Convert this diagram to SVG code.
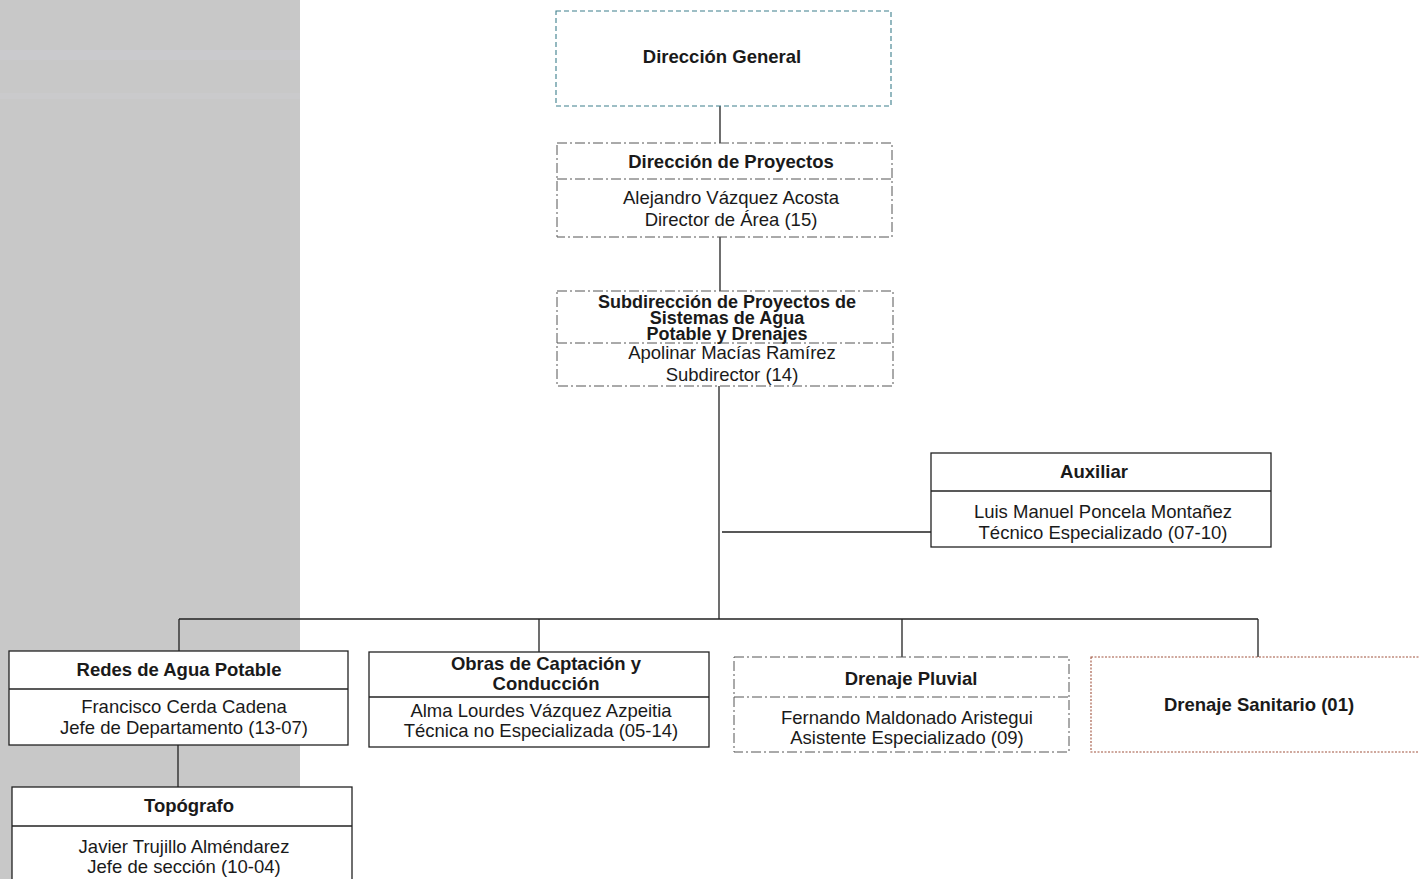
<svg xmlns="http://www.w3.org/2000/svg" width="1419" height="879" viewBox="0 0 1419 879">
<style>
text{font-family:"Liberation Sans",Arial,sans-serif;font-size:18.5px;fill:#1a1a1a;text-anchor:middle}
.b{font-weight:bold}
.t{font-size:18px}
.solid{fill:#fff;stroke:#222;stroke-width:1.3}
.dd{fill:#fff;stroke:#555;stroke-width:1;stroke-dasharray:10 3 2 3}
.ddl{stroke:#555;stroke-width:1;stroke-dasharray:10 3 2 3}
.sl{stroke:#222;stroke-width:1.3}
.con{stroke:#222;stroke-width:1.3;fill:none}
</style>
<rect x="0" y="0" width="300" height="879" fill="#c8c8c8"/>
<rect x="0" y="50" width="300" height="10" fill="#ccccd2" opacity="0.5"/>
<rect x="0" y="93" width="300" height="6" fill="#ccccd2" opacity="0.4"/>
<g id="connectors">
<path class="con" d="M720 106V143M720 237V291M719 386V619M722 532H931M179 619H1258M179 619V651M539 619V652M902 619V657M1258 619V657M178 745V787"/>
</g>
<g id="n-direccion-general">
<rect x="556" y="11" width="335" height="95" fill="#fff" stroke="#3d7f8c" stroke-width="1.1" stroke-dasharray="5 3"/>
<text class="b" x="722" y="63">Dirección General</text>
</g>
<g id="n-direccion-proyectos">
<rect class="dd" x="557" y="143" width="335" height="94"/>
<line class="ddl" x1="557" y1="179" x2="892" y2="179"/>
<text class="b" x="731" y="168">Dirección de Proyectos</text>
<text x="731" y="204">Alejandro Vázquez Acosta</text>
<text x="731" y="226">Director de Área (15)</text>
</g>
<g id="n-subdireccion">
<rect class="dd" x="557" y="291" width="336" height="95"/>
<line class="ddl" x1="557" y1="343" x2="893" y2="343"/>
<text class="b t" x="727" y="308">Subdirección de Proyectos de</text>
<text class="b t" x="727" y="324">Sistemas de Agua</text>
<text class="b t" x="727" y="340">Potable y Drenajes</text>
<text x="732" y="359">Apolinar Macías Ramírez</text>
<text x="732" y="381">Subdirector (14)</text>
</g>
<g id="n-auxiliar">
<rect class="solid" x="931" y="453" width="340" height="94"/>
<line class="sl" x1="931" y1="491" x2="1271" y2="491"/>
<text class="b" x="1094" y="478">Auxiliar</text>
<text x="1103" y="518">Luis Manuel Poncela Montañez</text>
<text x="1103" y="539">Técnico Especializado (07-10)</text>
</g>
<g id="n-redes">
<rect class="solid" x="9" y="651" width="339" height="94"/>
<line class="sl" x1="9" y1="689" x2="348" y2="689"/>
<text class="b" x="179" y="676">Redes de Agua Potable</text>
<text x="184" y="713">Francisco Cerda Cadena</text>
<text x="184" y="734">Jefe de Departamento (13-07)</text>
</g>
<g id="n-topografo">
<rect class="solid" x="12" y="787" width="340" height="100"/>
<line class="sl" x1="12" y1="826" x2="352" y2="826"/>
<text class="b" x="189" y="812">Topógrafo</text>
<text x="184" y="853">Javier Trujillo Alméndarez</text>
<text x="184" y="873">Jefe de sección (10-04)</text>
</g>
<g id="n-obras">
<rect class="solid" x="369" y="652" width="340" height="95"/>
<line class="sl" x1="369" y1="697" x2="709" y2="697"/>
<text class="b" x="546" y="670">Obras de Captación y</text>
<text class="b" x="546" y="690">Conducción</text>
<text x="541" y="717">Alma Lourdes Vázquez Azpeitia</text>
<text x="541" y="737">Técnica no Especializada (05-14)</text>
</g>
<g id="n-pluvial">
<rect class="dd" x="734" y="657" width="335" height="95"/>
<line class="ddl" x1="734" y1="697" x2="1069" y2="697"/>
<text class="b" x="911" y="685">Drenaje Pluvial</text>
<text x="907" y="724">Fernando Maldonado Aristegui</text>
<text x="907" y="744">Asistente Especializado (09)</text>
</g>
<g id="n-sanitario">
<rect x="1091" y="657" width="340" height="95" fill="#fff" stroke="#a0523d" stroke-width="1.1" stroke-dasharray="2 1.5"/>
<text class="b" x="1259" y="711">Drenaje Sanitario (01)</text>
</g>
</svg>
